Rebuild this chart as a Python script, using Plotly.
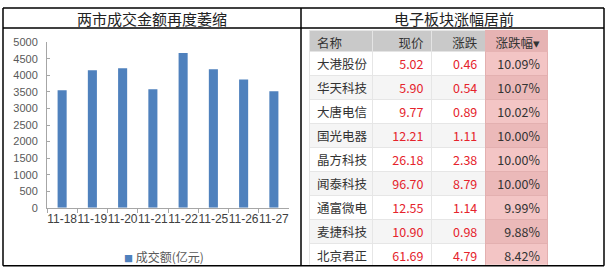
import plotly.graph_objects as go

W, H = 609, 276

# ---- data ----
dates = ["11-18", "11-19", "11-20", "11-21", "11-22", "11-25", "11-26", "11-27"]
turnover = [3555, 4160, 4220, 3585, 4680, 4190, 3875, 3525]
series_name = "成交额(亿元)"
yticks = [0, 500, 1000, 1500, 2000, 2500, 3000, 3500, 4000, 4500, 5000]

headers = ["名称", "现价", "涨跌", "涨跌幅▾"]
names = ["大港股份", "华天科技", "大唐电信", "国光电器", "晶方科技", "闻泰科技", "通富微电", "麦捷科技", "北京君正"]
prices = ["5.02", "5.90", "9.77", "12.21", "26.18", "96.70", "12.55", "10.90", "61.69"]
changes = ["0.46", "0.54", "0.89", "1.11", "2.38", "8.79", "1.14", "0.98", "4.79"]
pct = ["10.09%", "10.07%", "10.02%", "10.00%", "10.00%", "10.00%", "9.99%", "9.88%", "8.42%"]

title_left = "两市成交金额再度萎缩"
title_right = "电子板块涨幅居前"

def px_x(x):
    return x / W

def px_y(y):
    return 1 - y / H

fig = go.Figure()

fig.add_trace(go.Bar(
    x=dates, y=turnover, name=series_name,
    marker=dict(color="#4f81bd", line=dict(width=0)),
    width=0.3, showlegend=False,
))

n = len(names)
row_fill = ["#ffffff" if i % 2 == 0 else "#f5f5f5" for i in range(n)]
pink_fill = ["#f3c5c5" if i % 2 == 0 else "#ebb9b9" for i in range(n)]

fig.add_trace(go.Table(
    domain=dict(x=[px_x(309), px_x(549)], y=[px_y(271), px_y(26)]),
    columnwidth=[64, 59, 54, 63],
    header=dict(
        values=headers,
        fill=dict(color=["#c9c9c9", "#c9c9c9", "#c9c9c9", "#e6b3b3"]),
        align=["left", "right", "right", "right"],
        font=dict(family="Noto Sans CJK SC", size=12.5, color="#333333"),
        height=21,
        line=dict(color=["#e4e4e4", "#e4e4e4", "#e4e4e4", "#e6b3b3"], width=1),
    ),
    cells=dict(
        values=[names, prices, changes, pct],
        fill=dict(color=[row_fill, row_fill, row_fill, pink_fill]),
        align=["left", "right", "right", "right"],
        font=dict(family="Noto Sans CJK SC", size=12.5,
                  color=["#333333", "#e5232c", "#e5232c", "#333333"]),
        height=24,
        line=dict(color=["#e6e6e6", "#e6e6e6", "#e6e6e6", "#e3b0b0"], width=1),
    ),
))

axis_col = "#a6a6a6"
fig.update_layout(
    width=W, height=H,
    margin=dict(l=0, r=0, t=0, b=0),
    paper_bgcolor="white", plot_bgcolor="white",
    bargap=0.7,
    xaxis=dict(
        domain=[px_x(47), px_x(289)],
        anchor="y",
        showgrid=False, zeroline=False,
        showline=True, linecolor=axis_col, linewidth=1,
        ticks="outside", ticklen=4, tickcolor=axis_col,
        tickson="boundaries",
        tickfont=dict(family="Liberation Sans", size=12, color="#404040"),
        tickangle=0,
    ),
    yaxis=dict(
        domain=[px_y(211), px_y(38)],
        range=[0, 5000],
        tickvals=yticks,
        showgrid=False, zeroline=False,
        showline=True, linecolor=axis_col, linewidth=1,
        ticks="inside", ticklen=3, tickcolor=axis_col,
        tickfont=dict(family="Liberation Sans", size=11, color="#595959"),
        ticklabelstandoff=6,
    ),
    font=dict(family="Noto Sans CJK SC"),
)

# frame lines
line_style = dict(color="black", width=1.5)
frame = [
    (3, 2, 604, 2), (3, 271.5, 604, 271.5),
    (3, 2, 3, 271.5), (604, 2, 604, 271.5),
    (301, 2, 301, 271.5), (3, 23, 604, 23),
]
for x0, y0, x1, y1 in frame:
    fig.add_shape(type="line", xref="paper", yref="paper",
                  x0=px_x(x0), y0=px_y(y0), x1=px_x(x1), y1=px_y(y1),
                  line=line_style)

fig.add_annotation(text=title_left, xref="paper", yref="paper",
                   x=px_x(152), y=px_y(13), xanchor="center", yanchor="middle",
                   showarrow=False,
                   font=dict(family="Noto Sans CJK SC", size=15, color="#222222"))
fig.add_annotation(text=title_right, xref="paper", yref="paper",
                   x=px_x(454), y=px_y(13), xanchor="center", yanchor="middle",
                   showarrow=False,
                   font=dict(family="Noto Sans CJK SC", size=15, color="#222222"))

fig.add_annotation(text="<span style='color:#4f81bd;font-size:9px'>■</span> " + series_name,
                   xref="paper", yref="paper",
                   x=px_x(122), y=px_y(262), xanchor="left", yanchor="middle",
                   showarrow=False,
                   font=dict(family="Noto Sans CJK SC", size=12, color="#595959"))

fig.write_html("out.html")
